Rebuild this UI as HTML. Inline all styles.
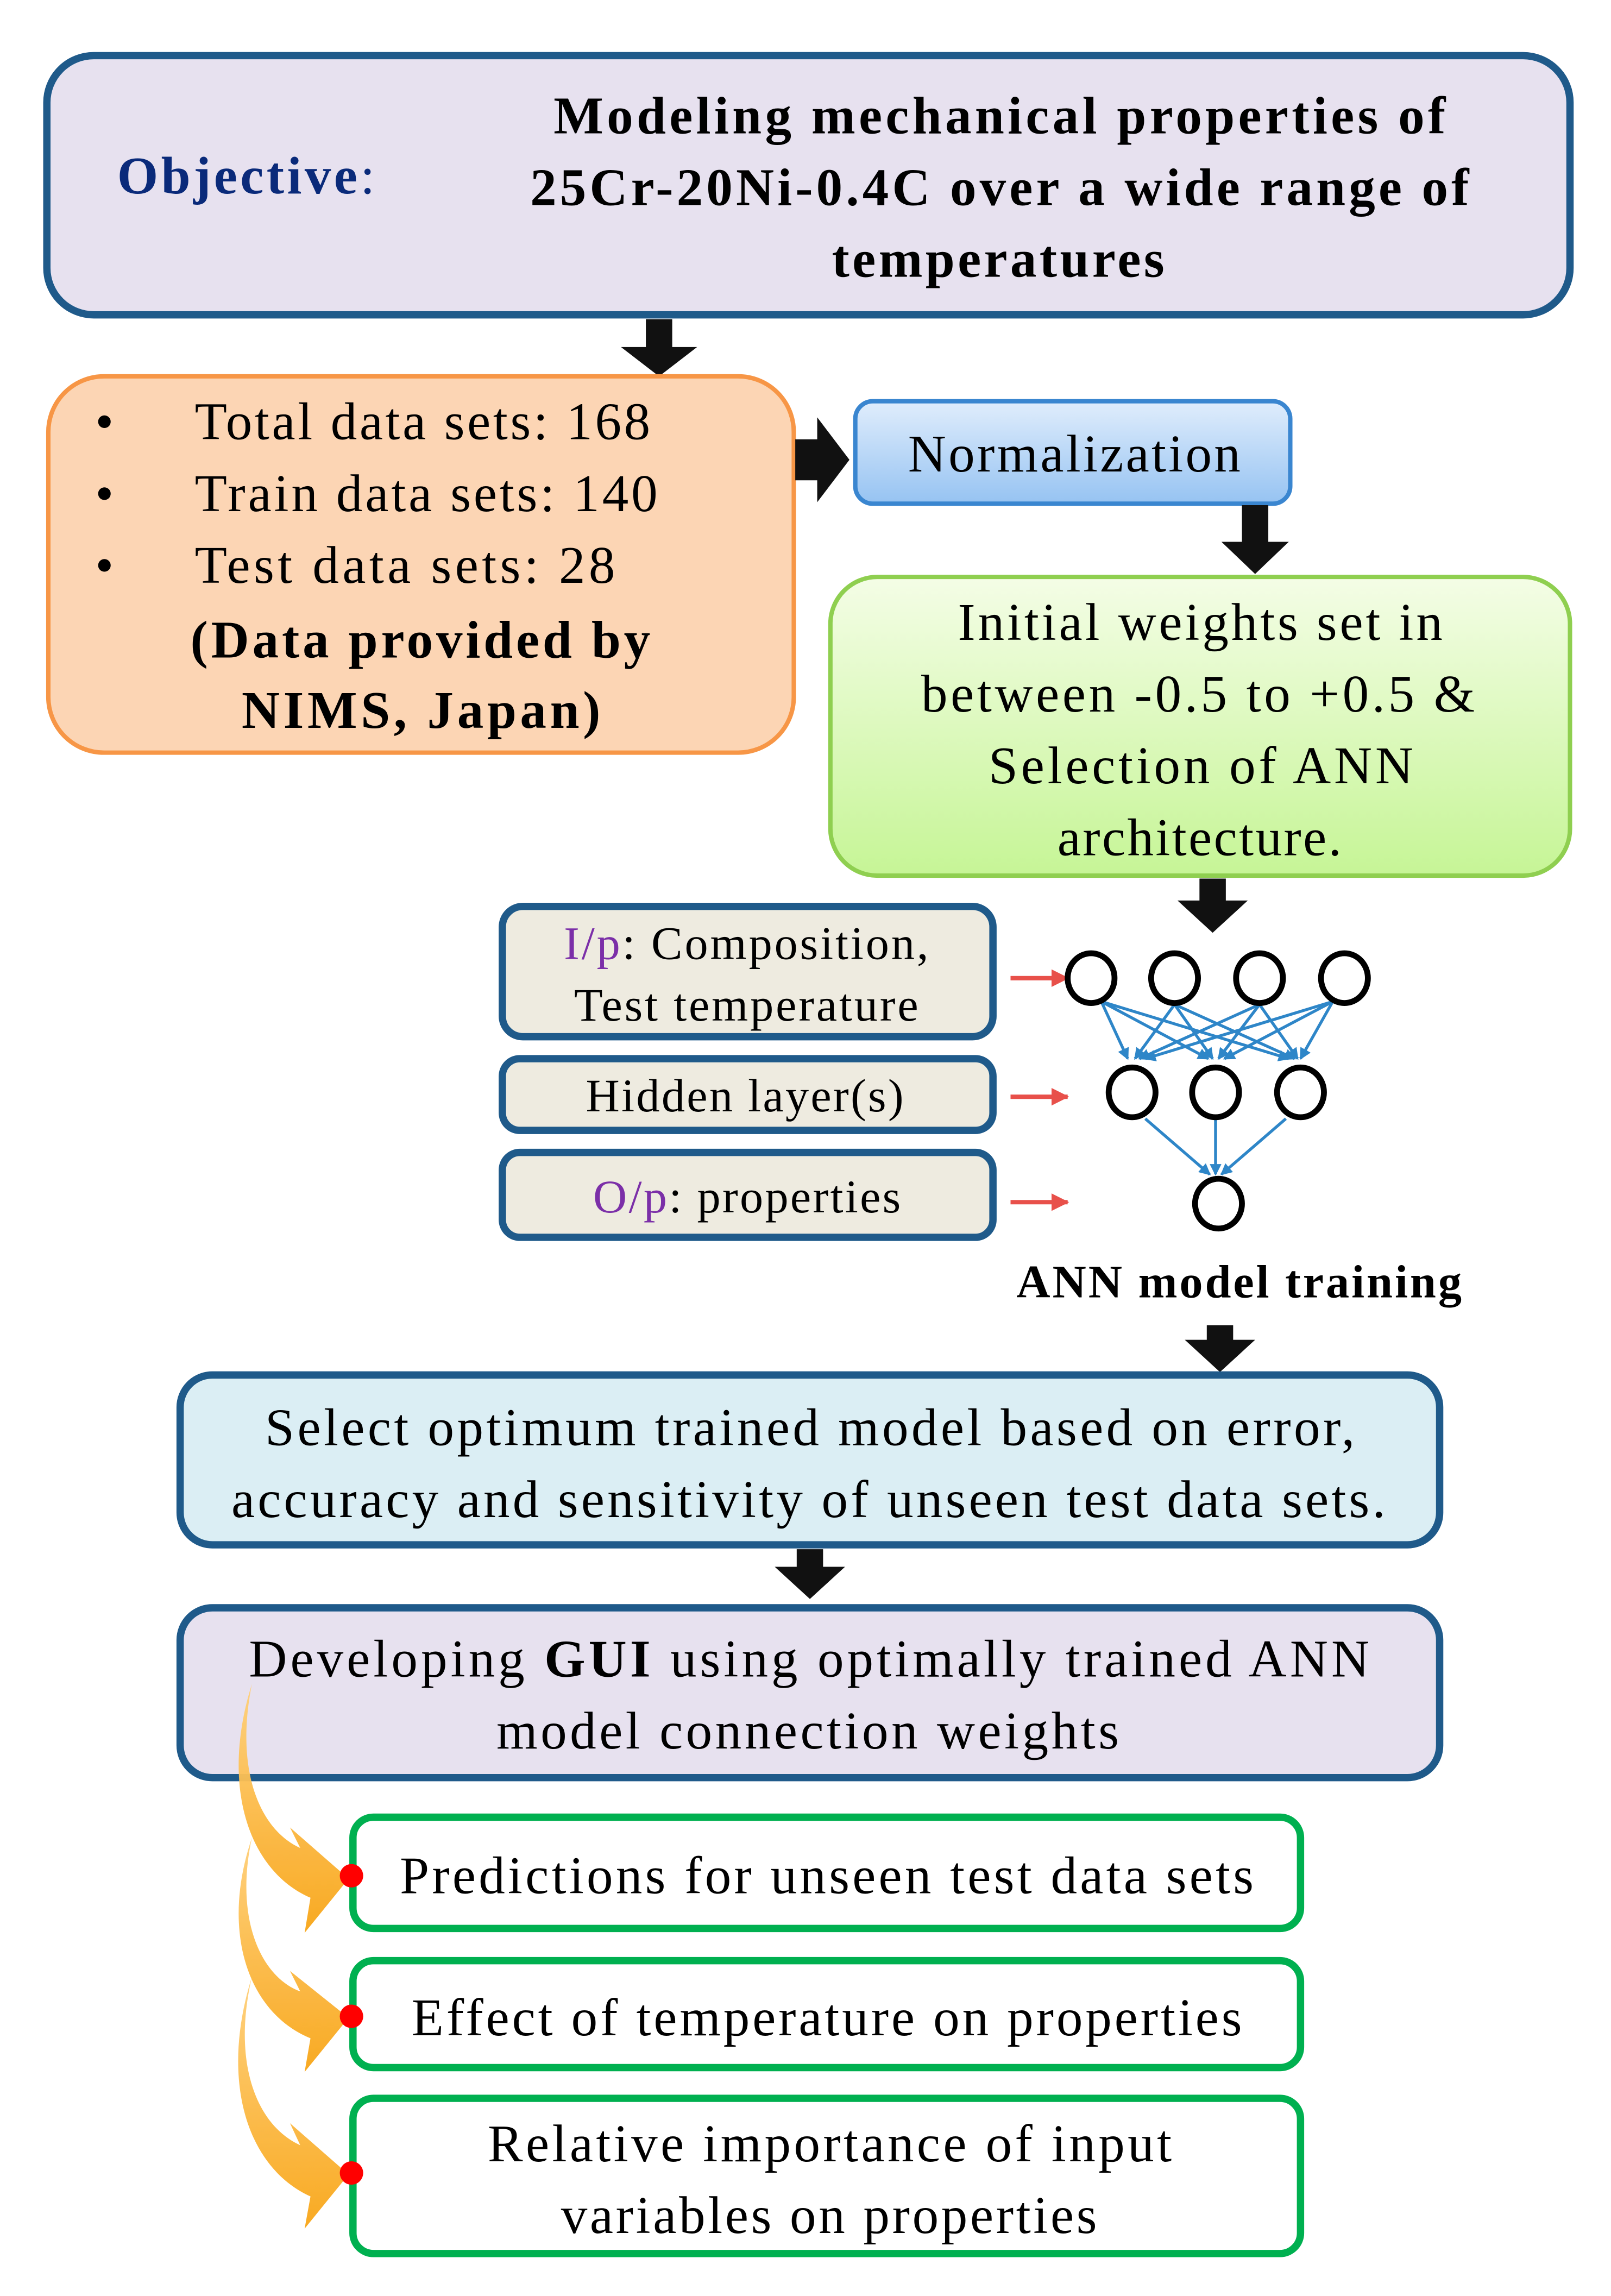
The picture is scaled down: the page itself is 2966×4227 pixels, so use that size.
<!DOCTYPE html>
<html><head><meta charset="utf-8"><style>
html,body{margin:0;padding:0;background:#fff;}
svg{display:block;}
text{font-family:"Liberation Serif",serif;}
</style></head><body>
<svg width="2966" height="4227" viewBox="0 0 1100 1568" preserveAspectRatio="none" xmlns="http://www.w3.org/2000/svg">
<defs>
<linearGradient id="gb" x1="0" y1="0" x2="0" y2="1"><stop offset="0" stop-color="#e0edfc"/><stop offset="1" stop-color="#96c3f2"/></linearGradient>
<linearGradient id="gg" x1="0" y1="0" x2="0" y2="1"><stop offset="0" stop-color="#f4fde6"/><stop offset="1" stop-color="#c6f596"/></linearGradient>
<linearGradient id="go" x1="0" y1="0" x2="0" y2="1"><stop offset="0" stop-color="#ffd07a"/><stop offset="1" stop-color="#f8a516"/></linearGradient>
<marker id="ba" markerWidth="8" markerHeight="8" refX="7" refY="4" orient="auto" markerUnits="userSpaceOnUse"><path d="M0,0 L8,4 L0,8 Z" fill="#2e86c8"/></marker>
<marker id="ra" markerWidth="12" markerHeight="12" refX="11" refY="6" orient="auto" markerUnits="userSpaceOnUse"><path d="M0,0 L12,6 L0,12 Z" fill="#e8504a"/></marker>
</defs>

<rect x="32" y="38" width="1040" height="177" rx="32" fill="#e7e1ef" stroke="#1f5a8a" stroke-width="5"/>
<text x="80" y="132" font-size="36" font-weight="bold" fill="#0a2a7a" textLength="176">Objective<tspan font-weight="normal">:</tspan></text>
<g font-size="36" font-weight="bold" fill="#000">
<text x="378" y="91" textLength="609">Modeling mechanical properties of</text>
<text x="362" y="140" textLength="641">25Cr-20Ni-0.4C over a wide range of</text>
<text x="568" y="189" textLength="227">temperatures</text>
</g>

<path d="M441,218 H459 V237 H476 L450,257 L424,237 H441 Z" fill="#111"/>

<rect x="33" y="257" width="509" height="257" rx="38" fill="#fcd5b4" stroke="#f79646" stroke-width="3"/>
<g font-size="36" fill="#000">
<text x="65" y="300">•</text><text x="133" y="300" textLength="311">Total data sets: 168</text>
<text x="65" y="349">•</text><text x="133" y="349" textLength="316">Train data sets: 140</text>
<text x="65" y="398">•</text><text x="133" y="398" textLength="287">Test data sets:  28</text>
</g>
<g font-size="36" font-weight="bold">
<text x="130" y="449" textLength="314">(Data provided by</text>
<text x="165" y="497" textLength="245">NIMS, Japan)</text>
</g>

<path d="M543,300 H558 V285 L580,314 L558,343 V328 H543 Z" fill="#111"/>

<rect x="584" y="274" width="297" height="70" rx="12" fill="url(#gb)" stroke="#3a86d0" stroke-width="3"/>
<text x="620" y="322" font-size="36" textLength="227">Normalization</text>

<path d="M848,345 H866 V370 H880 L857,392 L834,370 H848 Z" fill="#111"/>

<rect x="567" y="394" width="505" height="204" rx="32" fill="url(#gg)" stroke="#8fcf50" stroke-width="3"/>
<g font-size="36">
<text x="654" y="437" textLength="331">Initial weights set in</text>
<text x="629" y="486" textLength="378">between -0.5 to +0.5 &amp;</text>
<text x="675" y="535" textLength="290">Selection of ANN</text>
<text x="722" y="584" textLength="194">architecture.</text>
</g>

<path d="M819,600 H837 V615 H852 L828,637 L804,615 H819 Z" fill="#111"/>

<g fill="#eeebe0" stroke="#1f5a8a" stroke-width="5">
<rect x="343" y="619" width="335" height="89" rx="14"/>
<rect x="343" y="723" width="335" height="49" rx="12"/>
<rect x="343" y="787" width="335" height="58" rx="12"/>
</g>
<g font-size="32">
<text x="385" y="655" textLength="249"><tspan fill="#7b2fa8">I/p</tspan>: Composition,</text>
<text x="392" y="697" textLength="235">Test temperature</text>
<text x="400" y="759" textLength="217">Hidden layer(s)</text>
<text x="405" y="828" textLength="210"><tspan fill="#7b2fa8">O/p</tspan>: properties</text>
</g>

<g stroke="#e8504a" stroke-width="3" marker-end="url(#ra)">
<line x1="690" y1="668" x2="729" y2="668"/>
<line x1="690" y1="749" x2="729" y2="749"/>
<line x1="690" y1="821" x2="729" y2="821"/>
</g>

<g stroke="#2e86c8" stroke-width="2" marker-end="url(#ba)">
<line x1="752" y1="684" x2="770" y2="723"/><line x1="752" y1="684" x2="825" y2="723"/><line x1="752" y1="684" x2="880" y2="723"/>
<line x1="802" y1="686" x2="775" y2="723"/><line x1="802" y1="686" x2="828" y2="723"/><line x1="802" y1="686" x2="884" y2="723"/>
<line x1="860" y1="686" x2="778" y2="723"/><line x1="860" y1="686" x2="832" y2="723"/><line x1="860" y1="686" x2="886" y2="723"/>
<line x1="910" y1="684" x2="782" y2="723"/><line x1="910" y1="684" x2="836" y2="723"/><line x1="910" y1="684" x2="888" y2="723"/>
<line x1="782" y1="764" x2="826" y2="802"/><line x1="830" y1="764" x2="830" y2="802"/><line x1="878" y1="764" x2="834" y2="802"/>
</g>
<g fill="none" stroke="#000" stroke-width="4">
<ellipse cx="745" cy="668" rx="16" ry="17"/><ellipse cx="802" cy="668" rx="16" ry="17"/><ellipse cx="860" cy="668" rx="16" ry="17"/><ellipse cx="918" cy="668" rx="16" ry="17"/>
<ellipse cx="773" cy="746" rx="16" ry="17"/><ellipse cx="830" cy="746" rx="16" ry="17"/><ellipse cx="888" cy="746" rx="16" ry="17"/>
<ellipse cx="832" cy="822" rx="16" ry="17"/>
</g>
<text x="694" y="886" font-size="32" font-weight="bold" textLength="304">ANN model training</text>

<path d="M824,905 H842 V915 H857 L833,937 L809,915 H824 Z" fill="#111"/>

<rect x="123" y="939" width="860" height="116" rx="22" fill="#dbeef4" stroke="#1f5a8a" stroke-width="5"/>
<g font-size="36">
<text x="181" y="987" textLength="744">Select optimum trained model based on error,</text>
<text x="158" y="1036" textLength="788">accuracy and sensitivity of unseen test data sets.</text>
</g>

<path d="M544,1058 H562 V1070 H577 L553,1092 L529,1070 H544 Z" fill="#111"/>

<rect x="123" y="1098" width="860" height="116" rx="22" fill="#e7e1ef" stroke="#1f5a8a" stroke-width="5"/>
<g font-size="36">
<text x="170" y="1145" textLength="765">Developing <tspan font-weight="bold">GUI</tspan> using optimally trained ANN</text>
<text x="339" y="1194" textLength="425">model connection weights</text>
</g>

<g fill="#fff" stroke="#00b050" stroke-width="5">
<rect x="241" y="1241" width="647" height="76" rx="14"/>
<rect x="241" y="1339" width="647" height="73" rx="14"/>
<rect x="241" y="1433" width="647" height="106" rx="14"/>
</g>
<g font-size="36">
<text x="273" y="1293" textLength="583">Predictions for unseen test data sets</text>
<text x="281" y="1390" textLength="567">Effect of temperature on properties</text>
<text x="333" y="1476" textLength="467">Relative importance of input</text>
<text x="383" y="1525" textLength="366">variables on properties</text>
</g>

<g fill="url(#go)" opacity="0.95">
<path d="M172,1150 C160,1210 178,1250 205,1262 L198,1248 L238,1283 L208,1320 L212,1296 C170,1278 150,1220 172,1150 Z"/>
<path d="M172,1255 C160,1310 178,1350 205,1360 L198,1346 L238,1378 L208,1415 L212,1392 C170,1375 150,1320 172,1255 Z"/>
<path d="M172,1350 C158,1410 176,1452 205,1465 L198,1450 L238,1485 L208,1522 L212,1500 C168,1480 150,1420 172,1350 Z"/>
</g>
<g fill="#f00">
<circle cx="240" cy="1281" r="8"/><circle cx="240" cy="1377" r="8"/><circle cx="240" cy="1484" r="8"/>
</g>
</svg>
</body></html>
